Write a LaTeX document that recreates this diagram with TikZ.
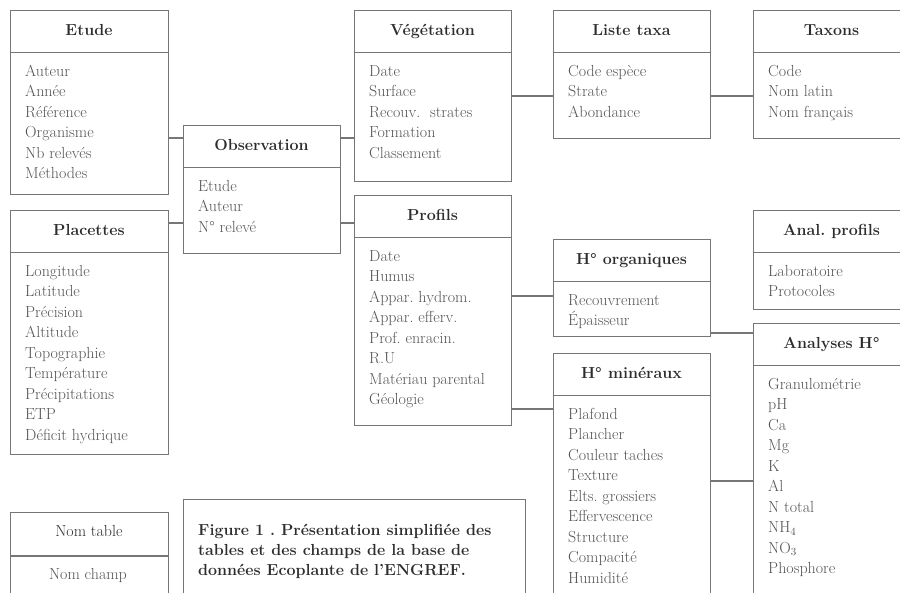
\documentclass[tikz,border=0pt]{standalone}
\usepackage{fontspec}
\frenchspacing
\definecolor{linecol}{RGB}{118,118,118}
\definecolor{fieldcol}{RGB}{85,85,85}
\definecolor{titlecol}{RGB}{45,45,45}
\tikzset{
  tbl/.style={draw=linecol, line width=1.4pt, inner sep=0pt},
  divline/.style={draw=linecol, line width=1.4pt},
  ttl/.style={font=\fontsize{16}{19}\selectfont\bfseries, text=titlecol, inner sep=0pt, text height=11pt, text depth=3.5pt},
  fld/.style={font=\fontsize{16}{19}\selectfont, text=fieldcol, inner sep=0pt, anchor=base west},
  link/.style={draw=linecol, line width=1.4pt},
  captxt/.style={font=\fontsize{16}{19}\selectfont\bfseries, text=titlecol, inner sep=0pt, anchor=base west}
}
% name, x, y, w, h, title, fields
\newcommand\mktable[7]{%
  \node[tbl, anchor=north west, minimum width=#4, minimum height=#5] (#1) at (#2,#3) {};
  \draw[divline] (#2,#3+42.5) -- (#2+#4,#3+42.5);
  \node[ttl] (#1-t) at (#2+#4/2,#3+21.5) {#6};
  \foreach \f [count=\i] in {#7} {
    \node[fld] (#1-\i) at (#2+15,#3+66+\i*20.5-20.5) {\f};
  }
}
\begin{document}
\begin{tikzpicture}[x=1pt,y=-1pt]
\clip (0,0) rectangle (900,592);
\fill[white] (0,0) rectangle (900,592);

\mktable{etude}{10}{10}{158}{184}{Etude}{Auteur,Année,Référence,Organisme,Nb relevés,Méthodes}
\mktable{plac}{10}{210}{158}{244}{Placettes}{Longitude,Latitude,Précision,Altitude,Topographie,Température,Précipitations,ETP,Déficit hydrique}
\mktable{obs}{183}{125}{157}{128}{Observation}{Etude,Auteur,N° relevé}
\mktable{veg}{354}{10}{157}{171}{Végétation}{Date,Surface,Recouv.\ \ strates,Formation,Classement}
\mktable{liste}{553}{10}{157}{128}{Liste taxa}{Code espèce,Strate,Abondance}
\mktable{taxons}{753}{10}{157}{128}{Taxons}{Code,Nom latin,Nom français}
\mktable{prof}{354}{195}{157}{230}{Profils}{Date,Humus,Appar.\ hydrom.,Appar.\ efferv.,Prof.\ enracin.,R.U,Matériau parental,Géologie}
\mktable{horg}{553}{239}{157}{97}{H° organiques}{Recouvrement,Épaisseur}
\mktable{hmin}{553}{353}{157}{260}{H° minéraux}{Plafond,Plancher,Couleur taches,Texture,Elts.\ grossiers,Effervescence,Structure,Compacité,Humidité}
\mktable{anprof}{753}{210}{157}{99}{Anal. profils}{Laboratoire,Protocoles}
\mktable{anal}{753}{323}{157}{290}{Analyses H°}{Granulométrie,pH,Ca,Mg,K,Al,N total,NH$_4$,NO$_3$,Phosphore}

% legend table
\node[tbl, anchor=north west, minimum width=158, minimum height=100] (nomtab) at (10,512) {};
\draw[divline] (10,556) -- (168,556);
\node[font=\fontsize{16}{19}\selectfont, text=titlecol, inner sep=0pt, text height=11pt, text depth=3.5pt] (nomtab-t) at (89,533) {Nom table};
\node[font=\fontsize{16}{19}\selectfont, text=fieldcol, inner sep=0pt, text height=11pt, text depth=3.5pt] (nomtab-1) at (88,576) {Nom champ};

% caption box
\node[tbl, anchor=north west, minimum width=342, minimum height=110] (capbox) at (183,499) {};
\node[captxt] (cap1) at (198,535) {Figure 1 . Présentation simplifiée des};
\node[captxt] (cap2) at (198,555) {tables et des champs de la base de};
\node[captxt] (cap3) at (198,575) {données Ecoplante de l'ENGREF.};

% connectors
\draw[link] (etude.east |- 0,138) -- (obs.west |- 0,138);
\draw[link] (plac.east |- 0,223) -- (obs.west |- 0,223);
\draw[link] (obs.east |- 0,138) -- (veg.west |- 0,138);
\draw[link] (obs.east |- 0,223) -- (prof.west |- 0,223);
\draw[link] (veg.east |- 0,96) -- (liste.west |- 0,96);
\draw[link] (liste.east |- 0,96) -- (taxons.west |- 0,96);
\draw[link] (prof.east |- 0,296) -- (horg.west |- 0,296);
\draw[link] (prof.east |- 0,409) -- (hmin.west |- 0,409);
\draw[link] (horg.east |- 0,333) -- (anal.west |- 0,333);
\draw[link] (hmin.east |- 0,481) -- (anal.west |- 0,481);
\end{tikzpicture}
\end{document}
